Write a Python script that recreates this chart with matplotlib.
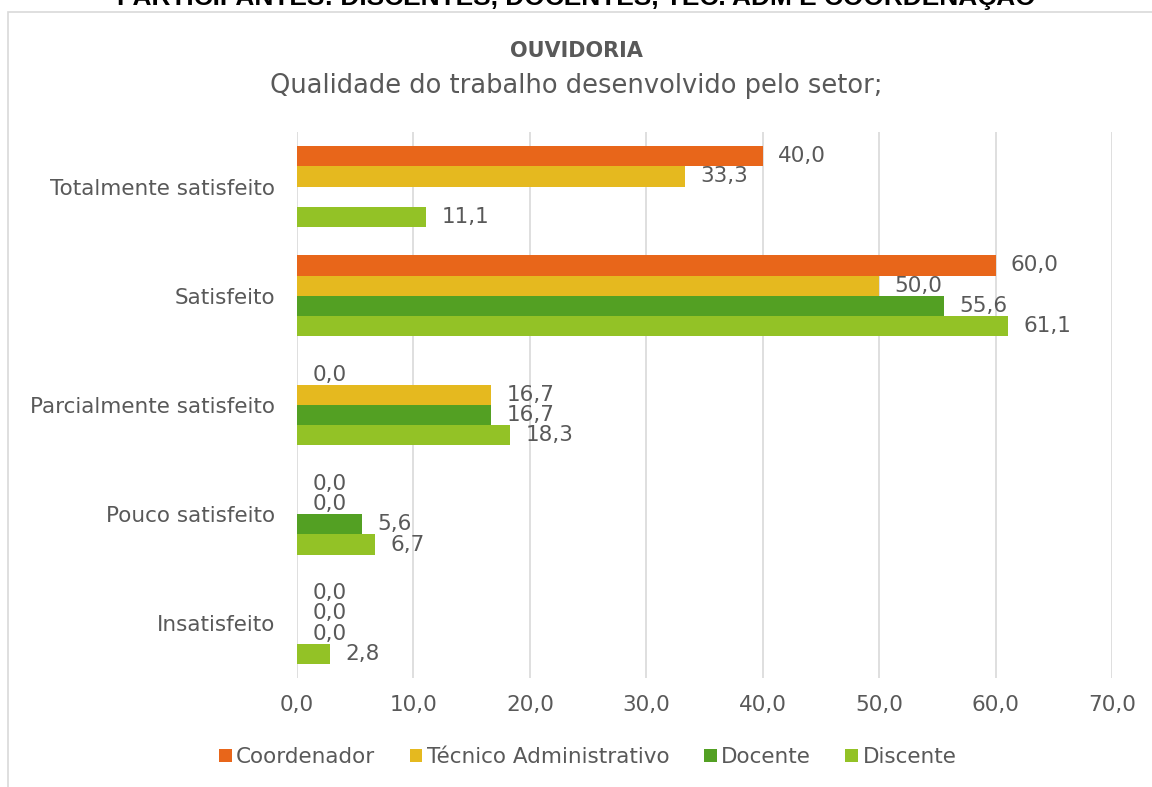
import numpy as np
import matplotlib.pyplot as plt
from matplotlib.patches import Rectangle

# categorias (de cima para baixo)
categorias = ["Totalmente satisfeito", "Satisfeito", "Parcialmente satisfeito",
              "Pouco satisfeito", "Insatisfeito"]
series = ["Coordenador", "Técnico Administrativo", "Docente", "Discente"]
coordenador = [40.0, 60.0, 0.0, 0.0, 0.0]
tecnico = [33.3, 50.0, 16.7, 0.0, 0.0]
docente = [np.nan, 55.6, 16.7, 5.6, 0.0]
discente = [11.1, 61.1, 18.3, 6.7, 2.8]
cores = ["#E8661A", "#E5B91F", "#53A023", "#93C226"]
xticks = [0, 10, 20, 30, 40, 50, 60, 70]

TXT = "#595959"
FS = 15.5
plt.rcParams['font.family'] = ['DejaVu Sans']

fig = plt.figure(figsize=(11.52, 7.87), dpi=100)
ax = fig.add_axes([297 / 1152, 1 - 678 / 787, (1112 - 297) / 1152, (678 - 132) / 787])

# moldura do grafico
fig.patches.append(Rectangle((8 / 1152, -0.1), 1.2, 1 - 12 / 787 + 0.1,
                             transform=fig.transFigure, fill=False,
                             edgecolor="#D9D9D9", linewidth=1.2))

y = np.arange(len(categorias))
h = 0.1852  # altura de cada barra
dados = [coordenador, tecnico, docente, discente]
for k, (vals, cor, nome) in enumerate(zip(dados, cores, series)):
    pos = y + (k - 1.5) * h
    ax.barh(pos, vals, height=h, color=cor, label=nome, zorder=2)
    for p, v in zip(pos, vals):
        if np.isnan(v):
            continue
        ax.annotate(f"{v:.1f}".replace(".", ","), (v, p), xytext=(11, 0),
                    textcoords="offset points", ha="left", va="center",
                    fontsize=FS, color=TXT)

ax.set_ylim(len(categorias) - 0.5, -0.5)
ax.set_xlim(0, 70)
ax.set_yticks(y)
ax.set_yticklabels(categorias, fontsize=FS, color=TXT)
ax.set_xticks(xticks)
ax.set_xticklabels([f"{t:.1f}".replace(".", ",") for t in xticks], fontsize=FS, color=TXT)
ax.tick_params(length=0, pad=12)
ax.tick_params(axis="y", pad=16)
ax.grid(axis="x", color="#D9D9D9", linewidth=1.2, zorder=0)
for s in ax.spines.values():
    s.set_visible(False)

# titulos
fig.text(0.5, 1 - 5.5 / 787, "PARTICIPANTES: DISCENTES, DOCENTES, TEC. ADM E COORDENAÇÃO",
         ha="center", va="baseline", fontsize=18.9, fontweight="bold",
         family="Liberation Sans", color="black")
fig.text(0.5, 1 - 57 / 787, "OUVIDORIA", ha="center", va="baseline",
         fontsize=15, fontweight="bold", color=TXT)
fig.text(0.5, 1 - 93 / 787, "Qualidade do trabalho desenvolvido pelo setor;",
         ha="center", va="baseline", fontsize=18.5, color=TXT)

leg = fig.legend(loc="center", bbox_to_anchor=(0.51, 1 - 757 / 787), ncol=4,
                 frameon=False, fontsize=FS, handlelength=0.6, handleheight=0.6,
                 handletextpad=0.2, columnspacing=1.6)
for t in leg.get_texts():
    t.set_color(TXT)

fig.savefig("out.png", dpi=100)
